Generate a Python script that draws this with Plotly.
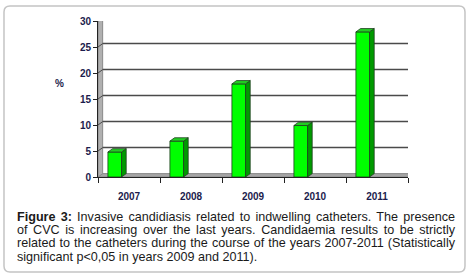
import plotly.graph_objects as go

years = ["2007", "2008", "2009", "2010", "2011"]
values = [4.8, 6.9, 17.9, 9.9, 27.9]
y_ticks = [0, 5, 10, 15, 20, 25, 30]
y_title = "%"
caption_lines = [
    "<b>Figure 3:</b> Invasive candidiasis related to indwelling catheters. The presence",
    "of CVC is increasing over the last years. Candidaemia results to be strictly",
    "related to the catheters during the course of the years 2007-2011 (Statistically",
    "significant p<0,05 in years 2009 and 2011).",
]

W, H = 470, 279
xpx0, xpx1 = 98, 408
ypx0, ypx30 = 177, 21
xdom = [xpx0 / W, xpx1 / W]
ydom = [(H - ypx0) / H, (H - ypx30) / H]

xs = list(range(len(years)))
bar_off, bar_w = -0.34, 0.22
dx, dy = 0.075, 0.65   # depth of the 3D effect in data units

fig = go.Figure()

shapes = []
# outer rounded frame
x0p, x1p = 4 / W, 465 / W
y0p, y1p = 1 - 272 / H, 1 - 6 / H
rx, ry = 6 / W, 6 / H
shapes.append(dict(type="path", xref="paper", yref="paper",
                   path=(f"M {x0p+rx:.5f} {y1p:.5f} L {x1p-rx:.5f} {y1p:.5f} Q {x1p:.5f} {y1p:.5f} {x1p:.5f} {y1p-ry:.5f} "
                         f"L {x1p:.5f} {y0p+ry:.5f} Q {x1p:.5f} {y0p:.5f} {x1p-rx:.5f} {y0p:.5f} L {x0p+rx:.5f} {y0p:.5f} "
                         f"Q {x0p:.5f} {y0p:.5f} {x0p:.5f} {y0p+ry:.5f} L {x0p:.5f} {y1p-ry:.5f} Q {x0p:.5f} {y1p:.5f} {x0p+rx:.5f} {y1p:.5f} Z"),
                   line=dict(color="#c4c4c4", width=1.5), fillcolor="rgba(0,0,0,0)", layer="below"))
# floor and left wall (decoration)
shapes.append(dict(type="path", xref="x", yref="y",
                   path=f"M -0.5 0 L {-0.5+dx} {dy} L {4.5+dx} {dy} L 4.5 0 Z",
                   fillcolor="#a6a6a6", line=dict(color="#8a8a8a", width=1), layer="below"))
shapes.append(dict(type="path", xref="x", yref="y",
                   path=f"M -0.5 0 L {-0.5+dx} {dy} L {-0.5+dx} {30+dy} L -0.5 30 Z",
                   fillcolor="#b0b0b0", line=dict(color="#8a8a8a", width=1), layer="below"))
# back-wall gridlines
for t in y_ticks[1:]:
    shapes.append(dict(type="line", xref="x", yref="y", x0=-0.5 + dx, x1=4.5 + dx,
                       y0=t + dy, y1=t + dy, line=dict(color="#4a4a4a", width=1.5), layer="below"))
    shapes.append(dict(type="line", xref="x", yref="y", x0=-0.5, x1=-0.5 + dx,
                       y0=t, y1=t + dy, line=dict(color="#4a4a4a", width=1), layer="below"))
shapes.append(dict(type="line", xref="x", yref="y", x0=4.5 + dx, x1=4.5 + dx,
                   y0=dy, y1=30 + dy, line=dict(color="#8a8a8a", width=1.5), layer="below"))

# side and top faces of the bars
for x, v in zip(xs, values):
    xl = x + bar_off
    xr = xl + bar_w
    fig.add_trace(go.Scatter(x=[xr, xr + dx, xr + dx, xr, xr], y=[0, dy, v + dy, v, 0],
                             fill="toself", fillcolor="#009a00", mode="lines",
                             line=dict(color="#1f3f1f", width=0.8), hoverinfo="skip", showlegend=False))
    fig.add_trace(go.Scatter(x=[xl, xl + dx, xr + dx, xr, xl], y=[v, v + dy, v + dy, v, v],
                             fill="toself", fillcolor="#22cc22", mode="lines",
                             line=dict(color="#1f3f1f", width=0.8), hoverinfo="skip", showlegend=False))

fig.add_trace(go.Bar(x=xs, y=values, offset=bar_off, width=bar_w,
                     marker=dict(color="#00ff00", line=dict(color="#1f3f1f", width=0.8)),
                     showlegend=False))

axis_font = dict(family="Liberation Sans", size=10, color="#1c1c4c")
annotations = [dict(text=f"<b>{y_title}</b>", x=60 / W, y=1 - 84 / H, xref="paper", yref="paper",
                    showarrow=False, font=axis_font, xanchor="center", yanchor="middle")]
for i, line in enumerate(caption_lines):
    annotations.append(dict(text=line, x=15 / W, y=1 - (216.5 + 13.4 * i) / H, xref="paper", yref="paper",
                            showarrow=False, xanchor="left", yanchor="middle", align="left",
                            font=dict(family="Liberation Sans", size=12.6, color="#1a1a1a")))

fig.update_layout(
    width=W, height=H, margin=dict(l=0, r=0, t=0, b=0),
    paper_bgcolor="white", plot_bgcolor="white",
    shapes=shapes,
    xaxis=dict(domain=xdom, range=[-0.5, 4.5], tickvals=xs, ticktext=[f"<b>{y}</b>" for y in years],
               ticks="", showgrid=False, zeroline=False, showline=True, linecolor="#222", linewidth=1,
               tickfont=axis_font, ticklabelstandoff=10, automargin=False,
               minor=dict(tickvals=[i - 0.5 for i in range(len(years) + 1)], ticks="outside",
                          ticklen=5, tickcolor="#222", showgrid=False)),
    yaxis=dict(domain=ydom, range=[0, 30], tickvals=y_ticks, ticktext=[f"<b>{t}</b>" for t in y_ticks],
               ticks="outside", ticklen=4, tickcolor="#222", showgrid=False, zeroline=False,
               showline=True, linecolor="#222", linewidth=1, tickfont=axis_font, automargin=False),
    annotations=annotations,
)

# justify the first three caption lines (stretch word spacing to the caption width)
justify_js = """
document.body.style.margin='0';
(function(){
  var target = 438;
  var texts = document.querySelectorAll('.annotation-text');
  for (var i = 1; i <= 3 && i < texts.length; i++) {
    var t = texts[i];
    try {
      var len = t.getComputedTextLength();
      var s = (t.textContent.match(/ /g) || []).length;
      if (s > 0 && len < target) { t.style.wordSpacing = ((target - len) / s) + 'px'; }
    } catch (e) {}
  }
})();
"""
fig.write_html("out.html", config={"displayModeBar": False}, post_script=justify_js)
